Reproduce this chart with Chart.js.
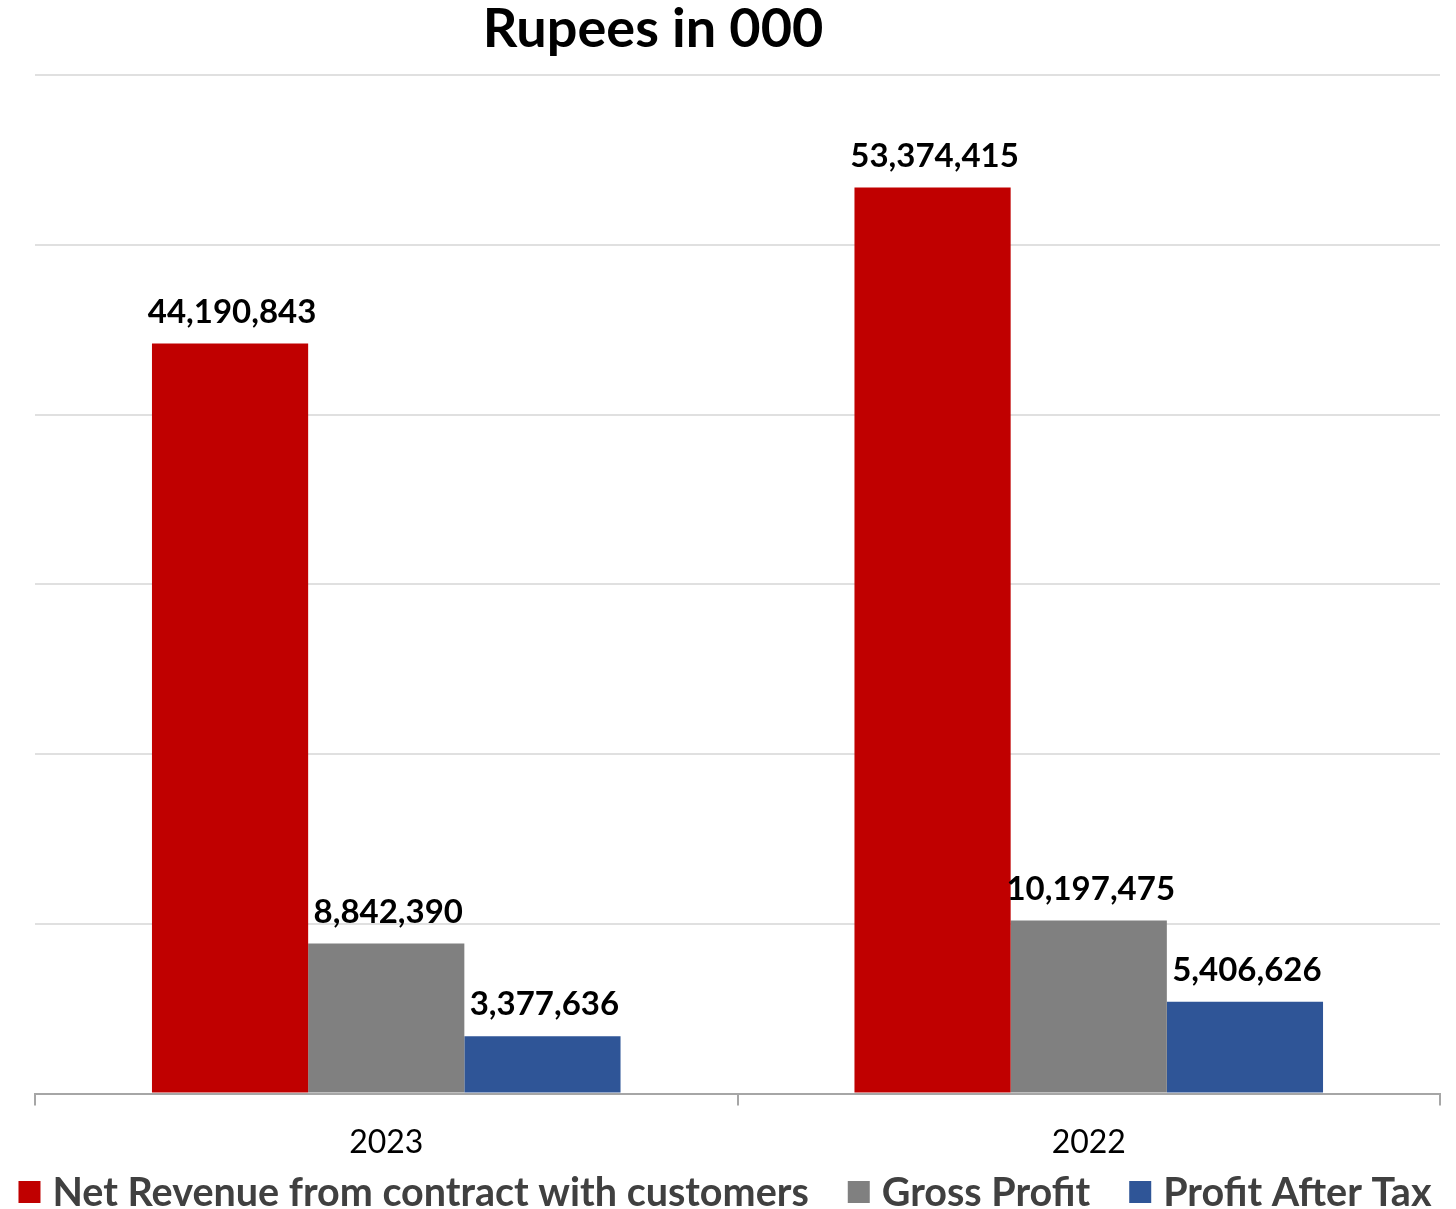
<!DOCTYPE html>
<html>
<head>
<meta charset="utf-8">
<script src="https://cdn.jsdelivr.net/npm/chart.js@4.4.0/dist/chart.umd.min.js"></script>
<style>
  html, body { margin: 0; padding: 0; background: #fff; }
  #wrap { width: 1456px; height: 1209px; position: relative; }
</style>
</head>
<body>
<div id="wrap"><canvas id="finChart"></canvas></div>
<script>
// Rupees in 000
const years = ['2023', '2022'];
const netRevenue = [44190843, 53374415];
const grossProfit = [8842390, 10197475];
const profitAfterTax = [3377636, 5406626];

const FONT = 'Lato, "Open Sans", sans-serif';

// title, value labels and a tighter legend than the built-in one
const extras = {
    id: 'extras',
    afterDatasetsDraw(chart) {
        const ctx = chart.ctx;
        ctx.save();
        ctx.fillStyle = '#000';
        ctx.font = 'bold 33px ' + FONT;
        ctx.textAlign = 'center';
        ctx.textBaseline = 'bottom';
        chart.data.datasets.forEach((ds, i) => {
            chart.getDatasetMeta(i).data.forEach((bar, j) => {
                ctx.fillText(ds.data[j].toLocaleString('en-US'), bar.x + 2, bar.y - 15);
            });
        });
        ctx.font = 'bold 54px ' + FONT;
        ctx.textBaseline = 'middle';
        ctx.fillText('Rupees in 000', 653, 30);

        // legend
        ctx.font = 'bold 39.5px ' + FONT;
        ctx.textAlign = 'left';
        const box = 22, gap = 12, itemGap = 39;
        const widths = chart.data.datasets.map(ds => ctx.measureText(ds.label).width);
        let total = widths.reduce((a, w) => a + box + gap + w, 0) + itemGap * (widths.length - 1);
        let x = 725 - total / 2;
        const y = 1192;
        chart.data.datasets.forEach((ds, i) => {
            ctx.fillStyle = ds.backgroundColor;
            ctx.fillRect(x, y - box / 2, box, box);
            ctx.fillStyle = '#404040';
            ctx.fillText(ds.label, x + box + gap, y + 1);
            x += box + gap + widths[i] + itemGap;
        });
        ctx.restore();
    }
};

new Chart(document.getElementById('finChart'), {
    type: 'bar',
    data: {
        labels: years,
        datasets: [{
            label: 'Net Revenue from contract with customers',
            data: netRevenue,
            backgroundColor: '#c00000'
        }, {
            label: 'Gross Profit',
            data: grossProfit,
            backgroundColor: '#808080'
        }, {
            label: 'Profit After Tax',
            data: profitAfterTax,
            backgroundColor: '#2f5597'
        }]
    },
    options: {
        responsive: true,
        maintainAspectRatio: false,
        animation: false,
        layout: { padding: { top: 75, left: 35, right: 16, bottom: 29 } },
        datasets: { bar: { barPercentage: 1, categoryPercentage: 0.667 } },
        scales: {
            x: {
                border: { color: '#a6a6a6', width: 2 },
                grid: { drawOnChartArea: false, color: '#a6a6a6', lineWidth: 2, tickLength: 12 },
                ticks: { color: '#000', font: { family: FONT, size: 32 }, padding: 18 }
            },
            y: {
                min: 0,
                max: 60000000,
                ticks: { stepSize: 10000000, display: false },
                border: { display: false },
                grid: { color: '#e0e0e0', lineWidth: 2, drawTicks: false }
            }
        },
        plugins: {
            legend: { display: false },
            tooltip: { enabled: false }
        }
    },
    plugins: [extras]
});
</script>
</body>
</html>
